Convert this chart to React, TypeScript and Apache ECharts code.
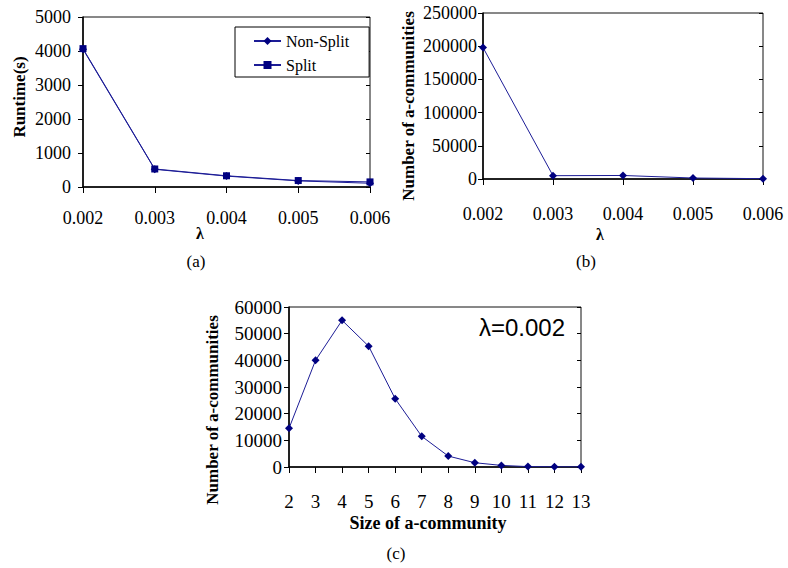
import React, { useEffect, useRef } from 'react';
import * as echarts from 'echarts';

const lambdaCats = ['0.002', '0.003', '0.004', '0.005', '0.006'];
const runtimeNonSplit = [4050, 520, 320, 180, 110];
const runtimeSplit = [4070, 530, 330, 190, 150];
const communityCounts = [198000, 5000, 5300, 1500, 500];
const sizeCats = ['2', '3', '4', '5', '6', '7', '8', '9', '10', '11', '12', '13'];
const sizeCounts = [14500, 40000, 55000, 45300, 25600, 11500, 4100, 1600, 600, 150, 80, 50];

const SERIF = 'Liberation Serif';
const LINE = '#1c1c96';
const MARK = '#000080';

function makeAxes(
  gridIndex: number,
  cats: string[],
  yMax: number,
  yInterval: number,
  fs: number,
  xMargin: number,
  yMargin: number,
  yPadTop: number
) {
  const xBase = {
    type: 'category' as const,
    gridIndex,
    data: cats,
    boundaryGap: false,
    splitLine: { show: false },
  };
  const yBase = {
    type: 'value' as const,
    gridIndex,
    min: 0,
    max: yMax,
    interval: yInterval,
    splitLine: { show: false },
  };
  const x = [
    {
      ...xBase,
      axisLine: { show: true, lineStyle: { color: '#000', width: 1.5 } },
      axisTick: { show: true, length: 6, alignWithLabel: true, interval: 0, lineStyle: { color: '#000', width: 1 } },
      axisLabel: { margin: xMargin, interval: 0, color: '#000', fontFamily: SERIF, fontSize: fs },
    },
    {
      ...xBase,
      axisLine: { show: false },
      axisTick: { show: true, inside: true, length: 5, interval: 0, lineStyle: { color: '#000', width: 1 } },
      axisLabel: { show: false },
    },
  ];
  const y = [
    {
      ...yBase,
      axisLine: { show: true, lineStyle: { color: '#000', width: 1.5 } },
      axisTick: { show: true, length: 5, lineStyle: { color: '#000', width: 1 } },
      axisLabel: {
        margin: yMargin,
        color: '#000',
        fontFamily: SERIF,
        fontSize: fs,
        padding: [yPadTop, 0, 0, 0],
        formatter: (v: number) => String(v),
      },
    },
    {
      ...yBase,
      axisLine: { show: false },
      axisTick: { show: true, inside: true, length: 4, lineStyle: { color: '#000', width: 1 } },
      axisLabel: { show: false },
    },
  ];
  return { x, y };
}

function text(t: string, x: number, y: number, size: number, bold: boolean, rotate = false, family = SERIF) {
  return {
    type: 'text',
    x,
    y,
    rotation: rotate ? Math.PI / 2 : 0,
    style: {
      text: t,
      fontFamily: family,
      fontSize: size,
      fontWeight: bold ? 'bold' : 'normal',
      fill: '#000',
      align: 'center',
      verticalAlign: 'middle',
    },
  };
}

export default function App() {
  const ref = useRef<HTMLDivElement>(null);
  useEffect(() => {
    if (!ref.current) return;
    const chart = echarts.init(ref.current, null, { renderer: 'svg' });
    const a = makeAxes(0, lambdaCats, 5000, 1000, 18, 22, 12, 0);
    const b = makeAxes(1, lambdaCats, 250000, 50000, 18, 26, 6, 10);
    const c = makeAxes(2, sizeCats, 60000, 10000, 19, 25, 7, 14);
    const borderGrid = { show: true, borderColor: '#111', borderWidth: 1, backgroundColor: 'transparent', containLabel: false };
    chart.setOption({
      animation: false,
      backgroundColor: '#fff',
      textStyle: { fontFamily: SERIF },
      grid: [
        { ...borderGrid, left: 83, top: 17, width: 287, height: 170 },
        { ...borderGrid, left: 483, top: 13, width: 280, height: 166 },
        { ...borderGrid, left: 289, top: 307, width: 292, height: 160 },
      ],
      xAxis: [...a.x, ...b.x, ...c.x],
      yAxis: [...a.y, ...b.y, ...c.y],
      legend: {
        data: ['Non-Split', 'Split'],
        orient: 'vertical',
        left: 235,
        top: 27,
        backgroundColor: '#fff',
        borderColor: '#000',
        borderWidth: 1,
        padding: [6, 20, 4, 18],
        itemWidth: 27,
        itemHeight: 10,
        itemGap: 8,
        textStyle: { fontFamily: SERIF, fontSize: 16, color: '#000' },
      },
      series: [
        {
          name: 'Non-Split',
          type: 'line',
          xAxisIndex: 0,
          yAxisIndex: 0,
          data: runtimeNonSplit,
          symbol: 'diamond',
          symbolSize: 8,
          lineStyle: { color: LINE, width: 1 },
          itemStyle: { color: MARK },
        },
        {
          name: 'Split',
          type: 'line',
          xAxisIndex: 0,
          yAxisIndex: 0,
          data: runtimeSplit,
          symbol: 'rect',
          symbolSize: 7,
          lineStyle: { color: LINE, width: 1 },
          itemStyle: { color: MARK },
        },
        {
          name: 'communities',
          type: 'line',
          xAxisIndex: 2,
          yAxisIndex: 2,
          data: communityCounts,
          symbol: 'diamond',
          symbolSize: 8,
          lineStyle: { color: LINE, width: 1 },
          itemStyle: { color: MARK },
        },
        {
          name: 'sizes',
          type: 'line',
          xAxisIndex: 4,
          yAxisIndex: 4,
          data: sizeCounts,
          symbol: 'diamond',
          symbolSize: 8,
          lineStyle: { color: LINE, width: 1 },
          itemStyle: { color: MARK },
        },
      ],
      graphic: [
        text('Runtime(s)', 19, 97, 17, true, true),
        text('λ', 200, 233, 16, true),
        text('(a)', 196, 261, 17, false),
        text('Number of a-communities', 408, 106, 17, true, true),
        text('λ', 600, 234, 16, true),
        text('(b)', 586, 261, 17, false),
        text('Number of a-communities', 212, 410, 17, true, true),
        text('Size of a-community', 428, 523, 18, true),
        text('(c)', 396, 553, 17, false),
        text('λ=0.002', 522, 327, 24, false, false, 'Liberation Sans'),
      ],
    });
    return () => chart.dispose();
  }, []);
  return (
    <div
      ref={ref}
      style={{ position: 'fixed', left: 0, top: 0, width: 788, height: 568 }}
    />
  );
}
